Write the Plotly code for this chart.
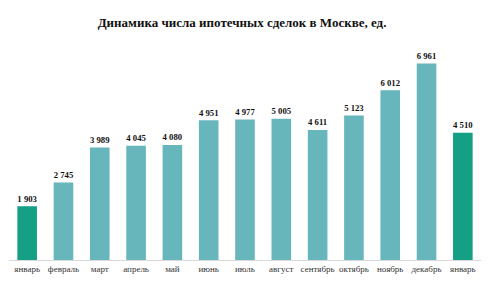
import plotly.graph_objects as go

months = ["январь", "февраль", "март", "апрель", "май", "июнь", "июль",
          "август", "сентябрь", "октябрь", "ноябрь", "декабрь", "январь"]
values = [1903, 2745, 3989, 4045, 4080, 4951, 4977, 5005, 4611, 5123, 6012, 6961, 4510]
highlight = [True] + [False] * 11 + [True]

c_main = "#67B6BB"
c_hi = "#15A086"
colors = [c_hi if h else c_main for h in highlight]
labels = [f"{v:,}".replace(",", " ") for v in values]
xs = list(range(len(values)))

fig = go.Figure(go.Bar(
    x=xs, y=values, marker_color=colors, marker_line_width=0,
    text=labels, textposition="outside", cliponaxis=False,
    textfont=dict(family="Liberation Serif", size=10, color="#111111"),
))
fig.update_traces(texttemplate="<b>%{text}</b>")
fig.update_layout(
    width=490, height=283,
    margin=dict(l=9, r=9, t=45, b=17),
    paper_bgcolor="white", plot_bgcolor="white",
    bargap=0.46, showlegend=False,
    title=dict(text="<b>Динамика числа ипотечных сделок в Москве, ед.</b>",
               x=0.494, xanchor="center", y=0.92, yanchor="middle",
               font=dict(family="Liberation Serif", size=13, color="#111111")),
    uniformtext=dict(minsize=8, mode="show"),
)
fig.update_xaxes(tickmode="array", tickvals=xs, ticktext=months,
                 range=[-0.5, 12.5], showline=True, linecolor="#D9D9D9",
                 linewidth=1, ticks="", showgrid=False,
                 tickfont=dict(family="Liberation Serif", size=9, color="#333333"))
fig.update_yaxes(range=[0, 7620], visible=False, showgrid=False)
fig.write_html("out.html")
